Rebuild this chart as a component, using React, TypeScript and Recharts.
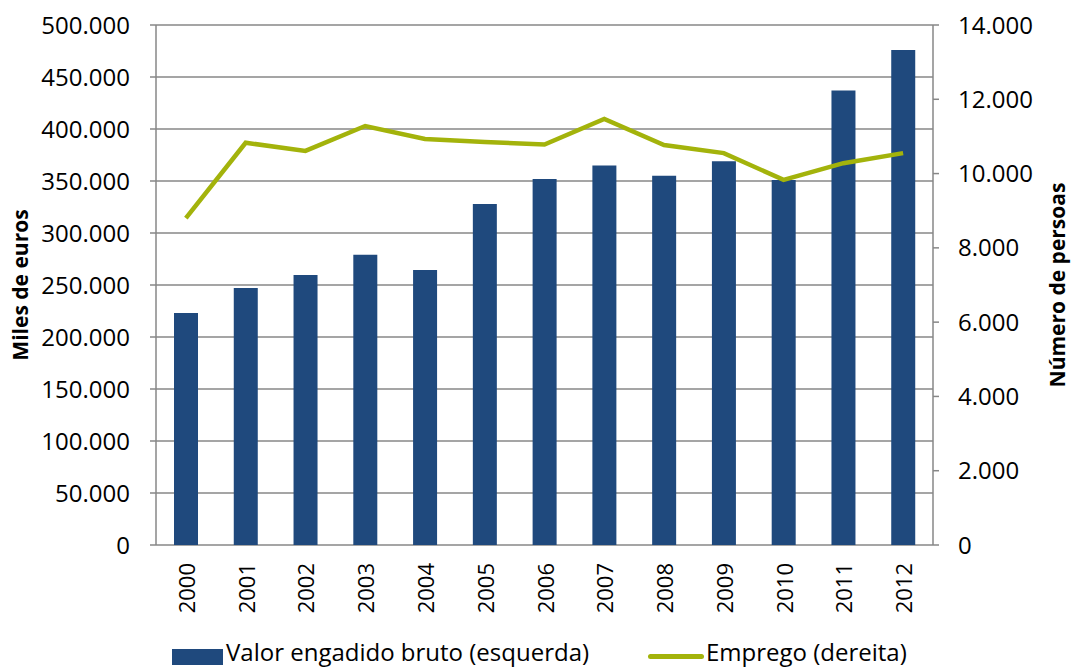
import React from "react"
import {
 ComposedChart,
 Bar,
 Line,
 XAxis,
 YAxis,
 CartesianGrid,
 Legend
} from "recharts"

const years = ["2000","2001","2002","2003","2004","2005","2006","2007","2008","2009","2010","2011","2012"]
const valorEngadido = [223000,247000,259500,279000,264500,328000,352000,365000,355000,369000,351000,437000,476000]
const emprego = [8800,10830,10610,11280,10930,10850,10780,11470,10770,10550,9830,10280,10550]
const leftTicks = [0,50000,100000,150000,200000,250000,300000,350000,400000,450000,500000]
const rightTicks = [0,2000,4000,6000,8000,10000,12000,14000]
const edgeTicks = [...years.keys(), years.length]

const BAR = "#1F497D"
const LINE = "#A3B30B"
const GRID = "#878787"
const FONT = "'Open Sans', sans-serif"

const fmt = (v:number) => v.toLocaleString("de-DE")

const data = years.map((y,i)=>({
 year:y,
 valor:valorEngadido[i],
 emprego:emprego[i]
}))

function YearTick(props:any){
 const {x,y,payload} = props
 return(
  <text
   transform={`translate(${x},${y}) rotate(-90)`}
   x={-18}
   y={0}
   textAnchor="end"
   dominantBaseline="central"
   fontSize={22}
   fontFamily={FONT}
   fill="#000"
  >
   {payload.value}
  </text>
 )
}

function LegendBox(){
 return(
  <div style={{position:"relative",height:30,fontFamily:FONT,fontSize:24,color:"#000"}}>
   <div style={{position:"absolute",left:172,top:9,width:51,height:16,background:BAR}}/>
   <div style={{position:"absolute",left:226,top:-5,whiteSpace:"nowrap"}}>Valor engadido bruto (esquerda)</div>
   <div style={{position:"absolute",left:648,top:14,width:56,height:5,borderRadius:3,background:LINE}}/>
   <div style={{position:"absolute",left:706,top:-5,whiteSpace:"nowrap"}}>Emprego (dereita)</div>
  </div>
 )
}

export default function App(){

 const tickStyle = {fontSize:24,fontFamily:FONT,fill:"#000"}

 return(
  <div style={{position:"absolute",left:0,top:0,width:1071,height:670,background:"#fff"}}>
   <ComposedChart
    width={1071}
    height={670}
    data={data}
    margin={{top:25,right:0,bottom:0,left:0}}
   >
    <CartesianGrid yAxisId="left" xAxisId="cat" vertical={false} stroke={GRID} strokeWidth={1.5}/>

    <XAxis
     xAxisId="edges"
     type="number"
     domain={[0,years.length]}
     ticks={edgeTicks}
     allowDataOverflow
     height={0}
     tick={false}
     tickSize={7}
     stroke={GRID}
     strokeWidth={1.5}
    />
    <XAxis
     xAxisId="cat"
     dataKey="year"
     height={95}
     axisLine={false}
     tickLine={false}
     tickSize={0}
     tickMargin={0}
     interval={0}
     tick={<YearTick/>}
    />

    <YAxis
     yAxisId="left"
     width={156}
     domain={[0,500000]}
     ticks={leftTicks}
     tickFormatter={fmt}
     tick={tickStyle}
     tickSize={6}
     tickMargin={20}
     stroke={GRID}
     strokeWidth={1.5}
     label={{value:"Miles de euros",angle:-90,position:"insideLeft",offset:21,style:{textAnchor:"middle",fontFamily:FONT,fontSize:21,fontWeight:700,fill:"#000"}}}
    />
    <YAxis
     yAxisId="right"
     orientation="right"
     width={138}
     domain={[0,14000]}
     ticks={rightTicks}
     tickFormatter={fmt}
     tick={tickStyle}
     tickSize={6}
     tickMargin={19}
     stroke={GRID}
     strokeWidth={1.5}
     label={{value:"Número de persoas",angle:-90,position:"insideRight",offset:13,style:{textAnchor:"middle",fontFamily:FONT,fontSize:21,fontWeight:700,fill:"#000"}}}
    />

    <Bar xAxisId="cat" yAxisId="left" dataKey="valor" name="Valor engadido bruto (esquerda)" fill={BAR} barSize={24} isAnimationActive={false}/>
    <Line xAxisId="cat" yAxisId="right" dataKey="emprego" name="Emprego (dereita)" stroke={LINE} strokeWidth={4.5} dot={false} type="linear" isAnimationActive={false}/>

    <Legend verticalAlign="bottom" content={<LegendBox/>} wrapperStyle={{left:0,width:1071}}/>
   </ComposedChart>
  </div>
 )

}
